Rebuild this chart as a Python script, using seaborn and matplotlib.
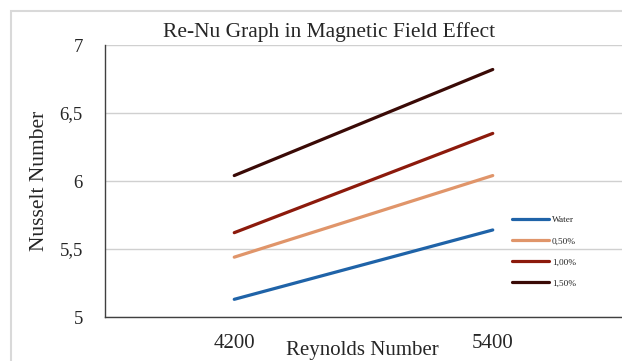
import matplotlib
matplotlib.use("Agg")
import matplotlib.pyplot as plt
import seaborn as sns
import pandas as pd
from matplotlib.patches import Rectangle
from matplotlib.lines import Line2D

# Data
reynolds = [4200, 5400]
series_names = ["Water", "0,50%", "1,00%", "1,50%"]
water = [5.13, 5.64]
p050 = [5.44, 6.04]
p100 = [5.62, 6.35]
p150 = [6.04, 6.82]
y_ticks = [5, 5.5, 6, 6.5, 7]
y_tick_labels = ["5", "5,5", "6", "6,5", "7"]
colors = ["#1F63A8", "#E0956A", "#8C1A0C", "#3A0A06"]

rows = []
for name, vals in zip(series_names, [water, p050, p100, p150]):
    for re_, nu in zip(reynolds, vals):
        rows.append({"Re": re_, "Nu": nu, "Series": name})
df = pd.DataFrame(rows)

sns.set_style("white")
plt.rcParams["font.family"] = ["Liberation Serif", "DejaVu Serif"]

fig = plt.figure(figsize=(6.22, 3.61), dpi=100)
ax = fig.add_axes([105 / 622, 1 - 317 / 361, 1 - 105 / 622, (317 - 45) / 361])

sns.lineplot(data=df, x="Re", y="Nu", hue="Series", palette=colors,
             hue_order=series_names, linewidth=2.3, ax=ax, legend=False)

ax.set_xlim(3600, 6000)
ax.set_ylim(5, 7)
ax.set_xticks(reynolds)
ax.set_xticklabels([str(r) for r in reynolds], fontsize=15)
ax.set_yticks(y_ticks)
ax.set_yticklabels(y_tick_labels, fontsize=13.5)
ax.tick_params(axis="x", length=0, pad=12.5)
ax.tick_params(axis="y", length=0, pad=16)
ax.set_xlabel("")
ax.set_ylabel("")
ax.yaxis.grid(True, color="#D0D0D0", linewidth=1.0)
ax.set_axisbelow(True)
for s in ["top", "right"]:
    ax.spines[s].set_visible(False)
ax.spines["left"].set_color("#404040")
ax.spines["bottom"].set_color("#404040")
ax.spines["left"].set_linewidth(1.0)
ax.spines["bottom"].set_linewidth(1.0)

# Legend
handles = [Line2D([0], [0], color=c, lw=2.3) for c in colors]
leg = fig.legend(handles, series_names, loc="upper left",
                 bbox_to_anchor=(507 / 622, 1 - 211 / 361), frameon=False,
                 fontsize=6.7, handlelength=4.0, handletextpad=0.32,
                 labelspacing=1.36, borderpad=0)

fig.text(329 / 622, 1 - 32 / 361, "Re-Nu Graph in Magnetic Field Effect",
         ha="center", va="center", fontsize=15.5)
fig.text(40 / 622, 1 - 181 / 361, "Nusselt Number", rotation=90,
         ha="center", va="center", fontsize=15.5)
fig.text(362 / 622, 1 - 351 / 361, "Reynolds Number",
         ha="center", va="center", fontsize=15)

fig.patches.append(Rectangle((11 / 622, -0.1), 2, 1 - 11 / 361 + 0.1,
                             transform=fig.transFigure, fill=False,
                             edgecolor="#D9D9D9", linewidth=1.5))

fig.savefig("out.png", dpi=100)
